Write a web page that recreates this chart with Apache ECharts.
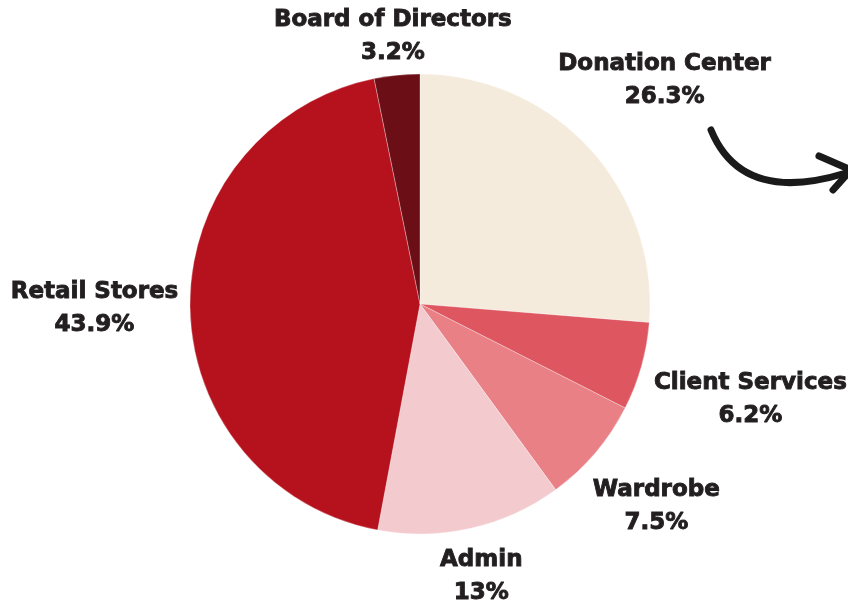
<!DOCTYPE html>
<html>
<head>
<meta charset="utf-8">
<style>html,body{margin:0;padding:0;background:#fff}#main{width:848px;height:600px}</style>
<script src="https://cdn.jsdelivr.net/npm/echarts@6/dist/echarts.min.js"></script>
</head>
<body>
<div id="main"></div>
<script>
const categories = ['Donation Center', 'Client Services', 'Wardrobe', 'Admin', 'Retail Stores', 'Board of Directors'];
const values = [26.3, 6.2, 7.5, 13, 43.9, 3.2];
const colors = ['#F5EBDD', '#DD5660', '#E88086', '#F3CACE', '#B5121E', '#6C0E16'];
const labelGaps = [2, 11, 10, 6, 11, -4];

const CX = 420, CY = 304, R = 230;
const total = values.reduce((a, b) => a + b, 0);

const chart = echarts.init(document.getElementById('main'), null, { renderer: 'canvas' });
chart.setOption({
  backgroundColor: '#ffffff',
  animation: false,
  series: [{
    type: 'pie',
    center: [CX, CY],
    radius: [0, R],
    startAngle: 90,
    clockwise: true,
    avoidLabelOverlap: false,
    data: categories.map((c, i) => ({ name: c, value: values[i], itemStyle: { color: colors[i] } })),
    itemStyle: { borderColor: 'rgba(255,255,255,0.6)', borderWidth: 0.5 },
    label: {
      show: true,
      position: 'outside',
      formatter: '{b}\n{c}%',
      fontFamily: 'DejaVu Sans',
      fontWeight: 'bold',
      fontSize: 23,
      lineHeight: 33,
      color: '#231F20',
      textBorderColor: '#231F20',
      textBorderWidth: 0.9,
      align: 'center',
      overflow: 'none'
    },
    labelLine: { show: false },
    emphasis: { disabled: true },
    labelLayout: function (p) {
      const i = p.dataIndex;
      let before = 0;
      for (let k = 0; k < i; k++) before += values[k];
      const mid = (before + values[i] / 2) / total * Math.PI * 2;
      const ux = Math.sin(mid), uy = -Math.cos(mid);
      const hw = p.labelRect.width / 2, hh = p.labelRect.height / 2;
      const d = R + labelGaps[i] + hw * Math.abs(ux) + hh * Math.abs(uy);
      return { x: CX + d * ux, y: CY + d * uy + 2, align: 'center', verticalAlign: 'middle' };
    }
  }],
  graphic: [
    {
      type: 'bezierCurve',
      shape: { x1: 711, y1: 130, cpx1: 742, cpy1: 205, x2: 846, y2: 173 },
      style: { stroke: '#1a1a1a', lineWidth: 7, fill: null, lineCap: 'round' },
      silent: true
    },
    {
      type: 'polyline',
      shape: { points: [[819, 156], [851, 170], [833, 190]] },
      style: { stroke: '#1a1a1a', lineWidth: 7, fill: null, lineCap: 'round', lineJoin: 'round' },
      silent: true
    }
  ]
});
</script>
</body>
</html>
